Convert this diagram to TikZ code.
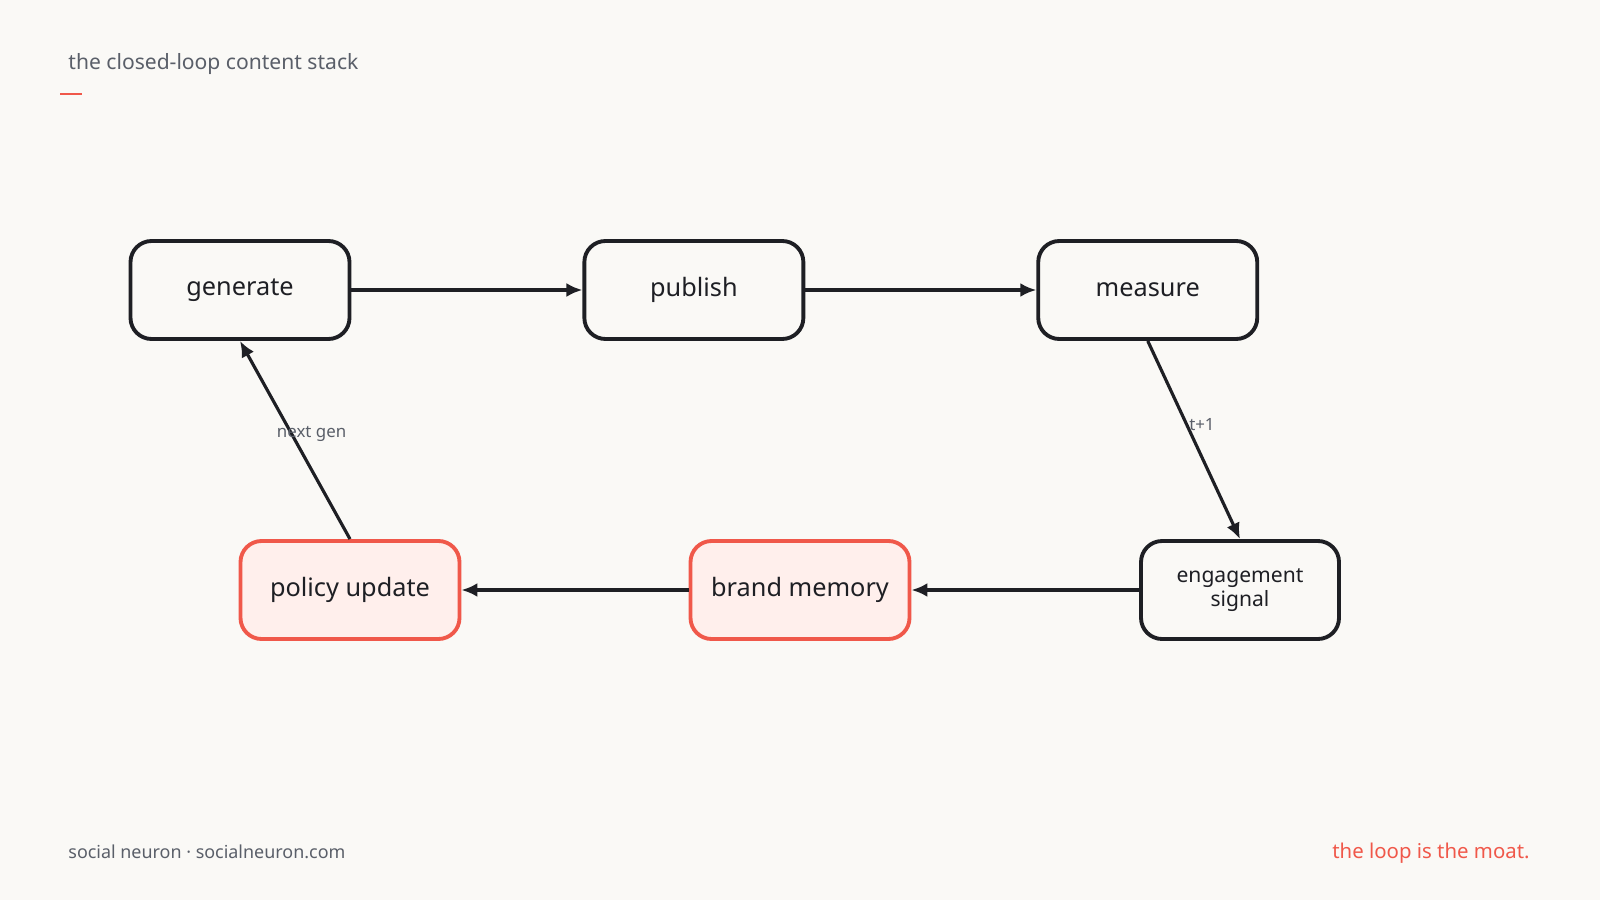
\documentclass[tikz,border=0pt]{standalone}
\usepackage{fontspec}
\setmainfont{Noto Sans}
\usetikzlibrary{positioning, arrows.meta}
\definecolor{bgcol}{HTML}{FAF9F6}
\definecolor{accent}{HTML}{F0584A}
\definecolor{accentfill}{HTML}{FFEFEC}
\definecolor{inkcol}{HTML}{1E1F24}
\definecolor{mutedcol}{HTML}{5A5F69}

\begin{document}
\begin{tikzpicture}[
    stage/.style={draw=inkcol, line width=1.1pt, rounded corners=6pt, fill=bgcol,
                  minimum width=2.19cm, minimum height=0.98cm, align=center,
                  font=\fontsize{7.2pt}{8.5pt}\selectfont, text=inkcol},
    hot/.style={stage, draw=accent, fill=accentfill},
    arrow/.style={-{Latex[length=1.6mm, width=1.4mm]}, line width=0.9pt, inkcol},
    tag/.style={font=\fontsize{4.8pt}{5.5pt}\selectfont, text=mutedcol}
]

% Page and background
\fill[bgcol] (0,0) rectangle (16,9);
\useasboundingbox (0,0) rectangle (16,9);

% Heading and footer
\node[anchor=west, font=\fontsize{6pt}{7pt}\selectfont, text=mutedcol] (title) at (0.56,8.36) {the closed-loop content stack};
\draw[accent, line width=0.7pt] (0.60,8.06) -- (0.82,8.06);
\node[anchor=west, font=\fontsize{5.1pt}{6pt}\selectfont, text=mutedcol] (brand) at (0.56,0.48) {social neuron · socialneuron.com};
\node[anchor=east, font=\fontsize{5.8pt}{7pt}\selectfont, text=accent] (moat) at (15.42,0.47) {the loop is the moat.};

% Stages of the loop
\node[stage] (generate) at (2.40,6.10) {generate};
\node[stage, right=2.31cm of generate] (publish) {publish};
\node[stage, right=2.31cm of publish] (measure) {measure};
\node[stage, font=\fontsize{6pt}{7pt}\selectfont, minimum width=1.98cm] (signal) at (12.40,3.10) {engagement\\signal};
\node[hot] (memory) at (8.00,3.10) {brand memory};
\node[hot] (policy) at (3.50,3.10) {policy update};

% Connectors
\draw[arrow] (generate) -- (publish);
\draw[arrow] (publish) -- (measure);
\draw[arrow] (measure.south) -- node[tag, right=-3pt, pos=0.42] {t+1} (signal.north);
\draw[arrow] (signal) -- (memory);
\draw[arrow] (memory) -- (policy);
\draw[arrow] (policy.north) -- node[tag, right=-8pt, pos=0.53] {next gen} (generate.south);

\end{tikzpicture}
\end{document}
